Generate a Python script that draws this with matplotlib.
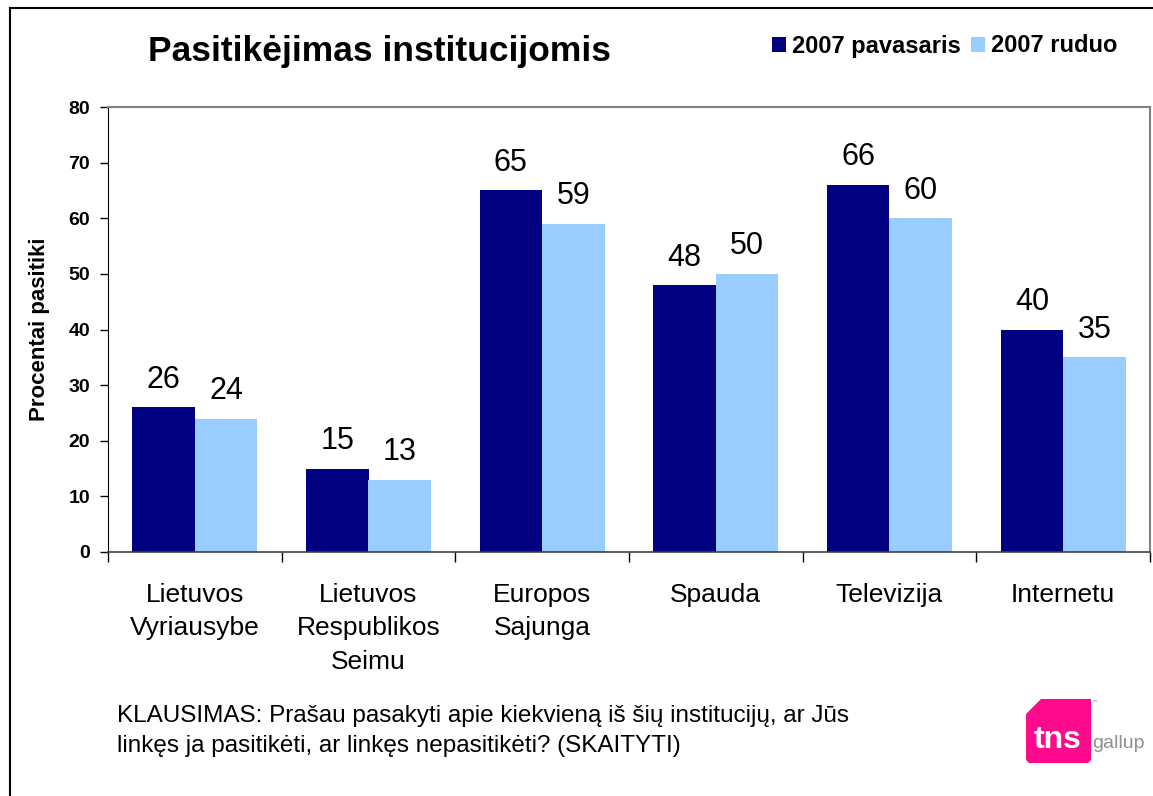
import matplotlib
matplotlib.use("Agg")
import matplotlib.pyplot as plt
from matplotlib.patches import Polygon
from matplotlib.lines import Line2D
import numpy as np

categories = ["Lietuvos\nVyriausybe", "Lietuvos\nRespublikos\nSeimu", "Europos\nSajunga",
              "Spauda", "Televizija", "Internetu"]
series_names = ["2007 pavasaris", "2007 ruduo"]
spring = [26, 15, 65, 48, 66, 40]
autumn = [24, 13, 59, 50, 60, 35]
yticks = [0, 10, 20, 30, 40, 50, 60, 70, 80]

c_dark = "#000080"
c_light = "#99CCFF"

plt.rcParams['font.family'] = ['Liberation Sans', 'DejaVu Sans']

W, H = 1153, 796
fig = plt.figure(figsize=(W/100, H/100), dpi=100)
fig.patch.set_facecolor("white")

def fx(px): return px / W
def fy(py): return 1 - py / H

ax = fig.add_axes([fx(108), fy(552), fx(1150) - fx(108), fy(107) - fy(552)])

x = np.arange(len(categories))
w = 0.36
b1 = ax.bar(x - w/2, spring, w, color=c_dark, label=series_names[0])
b2 = ax.bar(x + w/2, autumn, w, color=c_light, label=series_names[1])

for bars, vals in ((b1, spring), (b2, autumn)):
    for r, v in zip(bars, vals):
        ax.annotate(str(v), (r.get_x() + r.get_width()/2, v), xytext=(0, 9),
                    textcoords="offset points", ha="center", va="bottom", fontsize=22)

ax.set_xlim(-0.5, len(categories) - 0.5)
ax.set_ylim(0, 80)
ax.set_yticks(yticks)
ax.set_yticklabels([str(t) for t in yticks], fontweight="bold", fontsize=14)
ax.tick_params(axis="y", length=6, width=1, pad=7, color="black")

ax.set_xticks(x)
ax.set_xticklabels(categories, fontsize=19, linespacing=1.5)
ax.tick_params(axis="x", which="major", length=0, pad=22)
ax.set_xticks(np.arange(-0.5, len(categories)), minor=True)
ax.tick_params(axis="x", which="minor", length=7, width=1, color="black", direction="out")

for s in ("top", "right"):
    ax.spines[s].set_color("#808080")
    ax.spines[s].set_linewidth(1.5)
ax.spines["left"].set_color("black")
ax.spines["bottom"].set_color("#404040")
ax.spines["bottom"].set_linewidth(1.2)

ax.set_ylabel("Procentai pasitiki", fontsize=16, fontweight="bold")
ax.yaxis.set_label_coords((50 - 108) / (1150 - 108), 0.5)

fig.text(fx(380), fy(52), "Pasitikėjimas institucijomis", fontsize=25.5,
         fontweight="bold", ha="center", va="center")

fig.legend(handles=[b1, b2], loc="center right", bbox_to_anchor=(fx(1127), fy(46)),
           ncol=2, frameon=False, prop={"weight": "bold", "size": 17},
           handlelength=0.6, handleheight=0.6, handletextpad=0.25,
           columnspacing=0.45, borderaxespad=0)

fig.text(fx(117), fy(731), "KLAUSIMAS: Prašau pasakyti apie kiekvieną iš šių institucijų, ar Jūs\n"
         "linkęs ja pasitikėti, ar linkęs nepasitikėti? (SKAITYTI)",
         fontsize=17.5, ha="left", va="center", linespacing=1.52)

# outer frame
fig.add_artist(Line2D([fx(10), fx(10)], [fy(8), 0], color="black", lw=1.5))
fig.add_artist(Line2D([fx(10), 1], [fy(8), fy(8)], color="black", lw=1.5))

# logo
logo = [(1026, 714), (1041, 699), (1091, 699), (1091, 760), (1088, 763),
        (1029, 763), (1026, 760)]
fig.add_artist(Polygon([(fx(px), fy(py)) for px, py in logo], closed=True,
                       facecolor="#FF0A8C", edgecolor="none"))
fig.text(fx(1058), fy(740), "tns", color="white", fontsize=23, fontweight="bold",
         ha="center", va="center")
fig.text(fx(1092), fy(743), "gallup", color="#909090", fontsize=14, ha="left", va="center")
fig.text(fx(1092), fy(702), "™", color="#909090", fontsize=4, ha="left", va="center")

fig.savefig("out.png", dpi=100, facecolor="white")
